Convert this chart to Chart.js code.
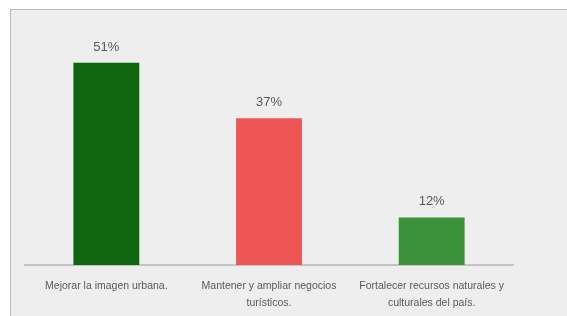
<!DOCTYPE html>
<html lang="es">
<head>
    <meta charset="UTF-8">
    <title>Encuesta</title>
    <script src="https://cdn.jsdelivr.net/npm/chart.js"></script>
    <style>
        body { margin: 0; background: #fff; overflow: hidden; }
        .frame {
            position: absolute; left: 10px; top: 9px;
            width: 600px; height: 400px;
            background: #eeeeee; border: 1px solid #bdbdbd;
        }
        .wrap { position: absolute; left: 0; top: 0; width: 567px; height: 316px; }
    </style>
</head>
<body>
    <div class="frame"></div>
    <div class="wrap"><canvas id="chart" width="567" height="316"></canvas></div>

    <script>
        const categories = [
            ['Mejorar la imagen urbana.'],
            ['Mantener y ampliar negocios', 'turísticos.'],
            ['Fortalecer recursos naturales y', 'culturales del país.']
        ];
        const values = [51, 37, 12];
        const barColors = ['#10660f', '#ee5656', '#3b923b'];

        const FONT = "'Liberation Sans Narrow', 'Liberation Sans', sans-serif";

        // percent labels above bars
        const valueLabels = {
            id: 'valueLabels',
            afterDatasetsDraw(chart) {
                const ctx = chart.ctx;
                const meta = chart.getDatasetMeta(0);
                ctx.save();
                ctx.font = '13px ' + FONT;
                ctx.fillStyle = '#5a5a5a';
                ctx.textAlign = 'center';
                ctx.textBaseline = 'bottom';
                meta.data.forEach((bar, i) => {
                    ctx.fillText(values[i] + '%', bar.x, bar.y - 9);
                });
                ctx.restore();
            }
        };

        new Chart(document.getElementById('chart'), {
            type: 'bar',
            data: {
                labels: categories,
                datasets: [{
                    data: values,
                    backgroundColor: barColors,
                    categoryPercentage: 1,
                    barPercentage: 0.405
                }]
            },
            options: {
                responsive: false,
                animation: false,
                maintainAspectRatio: false,
                layout: { padding: { left: 25, right: 54, top: 27, bottom: 0 } },
                plugins: { legend: { display: false }, tooltip: { enabled: false } },
                scales: {
                    x: {
                        grid: { display: false, drawTicks: false },
                        border: { color: '#c4c4c4', width: 2 },
                        ticks: {
                            color: '#5a5a5a',
                            font: { family: FONT, size: 10.5, lineHeight: 1.6 },
                            padding: 13,
                            maxRotation: 0,
                            autoSkip: false
                        },
                        afterFit(scale) { scale.height = 51; }
                    },
                    y: { display: false, min: 0, max: 60 }
                }
            },
            plugins: [valueLabels]
        });
    </script>
</body>
</html>
